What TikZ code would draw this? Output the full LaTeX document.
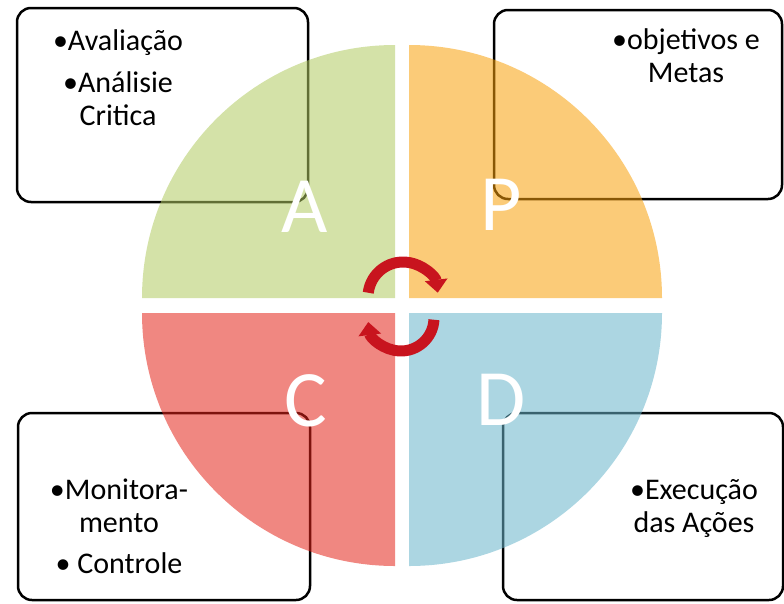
\documentclass[tikz,border=0pt]{standalone}
\usepackage{fontspec}
\setmainfont{Carlito}
\usetikzlibrary{arrows.meta}
\definecolor{qgreen}{RGB}{177,202,97}
\definecolor{qorange}{RGB}{248,160,10}
\definecolor{qred}{RGB}{228,36,26}
\definecolor{qblue}{RGB}{104,180,202}
\definecolor{cycred}{RGB}{200,20,30}
\tikzset{
  box/.style={draw=black, line width=2.5pt, rounded corners=14pt},
  quad/.style={fill opacity=0.55},
  lbl/.style={font=\fontsize{30}{33}\selectfont, align=center, anchor=base, inner sep=0pt, text=black},
  big/.style={text=white, font=\fontsize{80}{80}\selectfont, anchor=base, inner sep=0pt},
  cyc/.style={draw=cycred, line width=11pt, -{Triangle[width=22pt,length=13pt]}}
}
\begin{document}
\begin{tikzpicture}[x=1pt,y=-1pt]
\useasboundingbox (0,0) rectangle (784,603);
% boxes
\draw[box] (17,8) rectangle (308,202);
\draw[box] (494,10) rectangle (782,199);
\draw[box] (18,413) rectangle (310,600);
\draw[box] (503,413) rectangle (783,600);
% quadrants
\fill[quad, qgreen]  (395,298) -- ++(-253,0) arc[start angle=180, end angle=270, radius=253] -- cycle;
\fill[quad, qorange] (409,298) -- ++(0,-253) arc[start angle=270, end angle=360, radius=253] -- cycle;
\fill[quad, qred]    (395,313) -- ++(-253,0) arc[start angle=180, end angle=90, radius=253] -- cycle;
\fill[quad, qblue]   (409,313) -- ++(253,0) arc[start angle=0, end angle=90, radius=253] -- cycle;
% texts (anchor base = last line)
\node[lbl] (tA) at (118,125) {•Avaliação\\[9pt]•Análisie\\Critica};
\node[lbl] (tP) at (686,82) {•objetivos e\\Metas};
\node[lbl] (tC) at (119,573) {•Monitora-\\mento\\[8pt]• Controle};
\node[lbl] (tD) at (694,532) {•Execução\\das Ações};
% letters
\node[big] (A) at (305,232) {A};
\node[big] (P) at (501,230) {P};
\node[big] (C) at (306,426) {C};
\node[big] (D) at (501,425) {D};
% cycle arrows
\draw[cyc] (403,297) ++(187:35) arc[start angle=187, end angle=353, radius=35];
\draw[cyc] (401,318) ++(3:33) arc[start angle=3, end angle=173, radius=33];
\end{tikzpicture}
\end{document}
